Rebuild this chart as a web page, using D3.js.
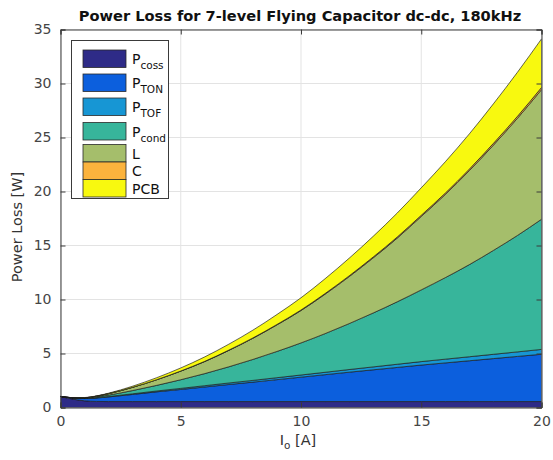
<!DOCTYPE html>
<html>
<head>
<meta charset="utf-8">
<script src="https://cdn.jsdelivr.net/npm/d3@7"></script>
<style>
  html, body { margin: 0; padding: 0; background: #fff; }
  svg { display: block; }
  text { font-family: "DejaVu Sans", sans-serif; }
</style>
</head>
<body>
<svg id="chart" width="553" height="460"></svg>
<script>
// Output current I_o [A]
const current = [0, 0.5, 1, 1.5, 2, 3, 4, 5, 6, 7, 8, 9, 10, 11, 12, 13, 14, 15, 16, 17, 18, 19, 20];

// Loss components [W]
const pCoss = [1.02, 0.78, 0.62, 0.56, 0.55, 0.55, 0.55, 0.55, 0.55, 0.55, 0.55, 0.55, 0.55, 0.55, 0.55, 0.55, 0.55, 0.55, 0.55, 0.55, 0.55, 0.55, 0.55];
const pTon  = [0, 0.1, 0.21, 0.32, 0.43, 0.66, 0.9, 1.12, 1.35, 1.58, 1.8, 2.03, 2.26, 2.49, 2.72, 2.94, 3.16, 3.38, 3.58, 3.78, 3.98, 4.18, 4.38];
const pTof  = [0, 0.01, 0.02, 0.03, 0.04, 0.06, 0.08, 0.1, 0.12, 0.14, 0.16, 0.18, 0.2, 0.22, 0.245, 0.27, 0.295, 0.32, 0.345, 0.37, 0.395, 0.42, 0.45];
const pCond = [0, 0.01, 0.03, 0.07, 0.13, 0.3, 0.52, 0.8, 1.12, 1.5, 1.94, 2.43, 2.97, 3.58, 4.25, 4.99, 5.78, 6.64, 7.55, 8.53, 9.62, 10.78, 12.05];
const lossL = [0, 0.01, 0.03, 0.07, 0.13, 0.3, 0.52, 0.8, 1.12, 1.52, 1.96, 2.46, 3.0, 3.65, 4.35, 5.1, 5.9, 6.8, 7.7, 8.7, 9.75, 10.85, 12.0];
const lossC = [0, 0, 0, 0, 0.002, 0.005, 0.01, 0.012, 0.018, 0.025, 0.032, 0.04, 0.05, 0.06, 0.072, 0.085, 0.098, 0.112, 0.128, 0.145, 0.162, 0.18, 0.2];
const lossPCB = [0, 0.003, 0.011, 0.025, 0.045, 0.1, 0.18, 0.28, 0.41, 0.55, 0.72, 0.92, 1.13, 1.37, 1.63, 1.91, 2.22, 2.54, 2.9, 3.26, 3.66, 4.08, 4.5];

const keys = ["coss", "ton", "tof", "cond", "L", "C", "PCB"];
const seriesValues = [pCoss, pTon, pTof, pCond, lossL, lossC, lossPCB];
const colors = ["#2e2b87", "#0c5fdd", "#1796d4", "#37b59b", "#a5be6b", "#fbb33d", "#f8f90f"];
// legend labels: [main text, subscript]
const legendLabels = [["P", "coss"], ["P", "TON"], ["P", "TOF"], ["P", "cond"], ["L", ""], ["C", ""], ["PCB", ""]];

const xTicks = [0, 5, 10, 15, 20];
const yTicks = [0, 5, 10, 15, 20, 25, 30, 35];

const svg = d3.select("#chart");
const plotL = 60.5, plotR = 541.5, plotT = 29.5, plotB = 407.5;

const x = d3.scaleLinear().domain([0, 20]).range([plotL, plotR]);
const y = d3.scaleLinear().domain([0, 35]).range([plotB, plotT]);

const rows = current.map((c, i) => {
  const r = { io: c };
  keys.forEach((k, j) => { r[k] = seriesValues[j][i]; });
  return r;
});
const stacked = d3.stack().keys(keys)(rows);

// grid
const grid = svg.append("g").attr("stroke", "#e3e3e3").attr("stroke-width", 1);
xTicks.forEach(t => grid.append("line")
  .attr("x1", x(t)).attr("x2", x(t)).attr("y1", plotT).attr("y2", plotB));
yTicks.forEach(t => grid.append("line")
  .attr("x1", plotL).attr("x2", plotR).attr("y1", y(t)).attr("y2", y(t)));

svg.append("clipPath").attr("id", "plotClip")
  .append("rect").attr("x", plotL).attr("y", plotT).attr("width", plotR - plotL).attr("height", plotB - plotT);

const area = d3.area()
  .x(d => x(d.data.io))
  .y0(d => y(d[0]))
  .y1(d => y(d[1]))
  .curve(d3.curveMonotoneX);

svg.append("g").attr("clip-path", "url(#plotClip)")
  .selectAll("path").data(stacked).join("path")
  .attr("d", area)
  .attr("fill", (d, i) => colors[i])
  .attr("stroke", "#1d1d1d")
  .attr("stroke-opacity", 0.85)
  .attr("stroke-width", 0.8)
  .attr("stroke-linejoin", "round");

// axes
const axisColor = "#3a3a3a";
const fmt = d3.format("d");
const xAxis = svg.append("g").attr("transform", `translate(0,${plotB})`)
  .call(d3.axisBottom(x).tickValues(xTicks).tickFormat(fmt).tickSize(-5).tickPadding(9));
const yAxis = svg.append("g").attr("transform", `translate(${plotL},0)`)
  .call(d3.axisLeft(y).tickValues(yTicks).tickFormat(fmt).tickSize(-5).tickPadding(9));
const xTop = svg.append("g").attr("transform", `translate(0,${plotT})`)
  .call(d3.axisTop(x).tickValues(xTicks).tickFormat("").tickSize(-5));
const yRight = svg.append("g").attr("transform", `translate(${plotR},0)`)
  .call(d3.axisRight(y).tickValues(yTicks).tickFormat("").tickSize(-5));
[xAxis, yAxis, xTop, yRight].forEach(g => {
  g.select(".domain").attr("stroke", axisColor).attr("stroke-width", 1);
  g.selectAll(".tick line").attr("stroke", axisColor);
  g.selectAll(".tick text").attr("fill", "#454545").style("font-size", "14px")
    .style("font-family", "DejaVu Sans, sans-serif");
});

// title
svg.append("text")
  .attr("x", 300).attr("y", 21)
  .attr("text-anchor", "middle")
  .style("font-size", "14.6px").style("font-weight", "bold").attr("fill", "#111")
  .text("Power Loss for 7-level Flying Capacitor dc-dc, 180kHz");

// axis labels
const xl = svg.append("text").attr("x", 298).attr("y", 445).attr("text-anchor", "middle")
  .attr("fill", "#333").style("font-size", "14.5px");
xl.append("tspan").text("I");
xl.append("tspan").attr("dy", 4).style("font-size", "10.5px").text("o");
xl.append("tspan").attr("dy", -4).text(" [A]");

svg.append("text")
  .attr("transform", "translate(22,227) rotate(-90)")
  .attr("text-anchor", "middle").attr("fill", "#333").style("font-size", "14.5px")
  .text("Power Loss [W]");

// legend
const lg = svg.append("g");
lg.append("rect").attr("x", 71.5).attr("y", 40.5).attr("width", 97).attr("height", 158)
  .attr("fill", "#fff").attr("stroke", "#3a3a3a").attr("stroke-width", 1);
const rowTops = [50, 74, 98, 122.5, 144.5, 162, 179.5];
legendLabels.forEach((lab, i) => {
  const ty = rowTops[i];
  lg.append("rect").attr("x", 83).attr("y", ty).attr("width", 43).attr("height", 17.5)
    .attr("fill", colors[i]).attr("stroke", "#2a2a2a").attr("stroke-width", 0.8);
  const t = lg.append("text").attr("x", 132).attr("y", ty + 14)
    .attr("fill", "#111").style("font-size", "14px");
  t.append("tspan").text(lab[0]);
  if (lab[1]) t.append("tspan").attr("dy", 5).style("font-size", "10.5px").text(lab[1]);
});
</script>
</body>
</html>
